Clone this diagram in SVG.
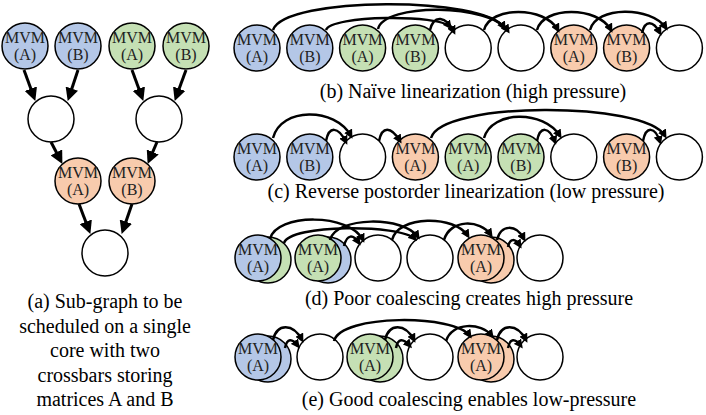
<svg xmlns="http://www.w3.org/2000/svg" width="706" height="415" viewBox="0 0 706 415">
<style>
.n{stroke:#000;stroke-width:1.5}
.b{fill:#b4c7e7}.g{fill:#c5e0b4}.o{fill:#f8cbad}.w{fill:#fff}
.t{font-family:"Liberation Serif","Times New Roman",serif;font-size:16px;text-anchor:middle;fill:#222}
.cap{font-family:"Liberation Serif","Times New Roman",serif;font-size:20px;text-anchor:middle;fill:#000}
.big{fill:none;stroke:#000;stroke-width:3;marker-end:url(#hb)}
.arc{fill:none;stroke:#000;stroke-width:2.5;marker-end:url(#hs)}
</style>
<defs>
<marker id="hb" markerUnits="userSpaceOnUse" markerWidth="13" markerHeight="13" refX="8" refY="6.5" orient="auto" viewBox="0 0 13 13"><path d="M0,0 L13,6.5 L0,13 z" fill="#000"/></marker>
<marker id="hs" markerUnits="userSpaceOnUse" markerWidth="9" markerHeight="9" refX="6" refY="4.5" orient="auto" viewBox="0 0 9 9"><path d="M0,0 L9,4.5 L0,9 z" fill="#000"/></marker>
</defs>

<!-- Panel (a) -->
<g id="a-bA"><circle class="n b" cx="25" cy="46" r="23"/><text class="t" x="25" y="43">MVM</text><text class="t" x="25" y="60">(A)</text></g>
<g id="a-bB"><circle class="n b" cx="78" cy="46" r="23"/><text class="t" x="78" y="43">MVM</text><text class="t" x="78" y="60">(B)</text></g>
<g id="a-gA"><circle class="n g" cx="132" cy="46" r="23"/><text class="t" x="132" y="43">MVM</text><text class="t" x="132" y="60">(A)</text></g>
<g id="a-gB"><circle class="n g" cx="186" cy="46" r="23"/><text class="t" x="186" y="43">MVM</text><text class="t" x="186" y="60">(B)</text></g>
<g id="a-wL"><circle class="n w" cx="51" cy="119" r="23"/></g>
<g id="a-wR"><circle class="n w" cx="159" cy="119" r="23"/></g>
<g id="a-oA"><circle class="n o" cx="78" cy="181" r="23"/><text class="t" x="78" y="178">MVM</text><text class="t" x="78" y="195">(A)</text></g>
<g id="a-oB"><circle class="n o" cx="132" cy="181" r="23"/><text class="t" x="132" y="178">MVM</text><text class="t" x="132" y="195">(B)</text></g>
<g id="a-wB"><circle class="n w" cx="105" cy="253" r="23"/></g>
<g id="a-caption">
<text class="cap" x="105" y="308">(a) Sub-graph to be</text>
<text class="cap" x="105" y="332.5">scheduled on a single</text>
<text class="cap" x="105" y="357">core with two</text>
<text class="cap" x="105" y="381.5">crossbars storing</text>
<text class="cap" x="105" y="406">matrices A and B</text>
</g>

<!-- Panel (b) -->
<g id="b-1"><circle class="n b" cx="257" cy="48" r="23"/><text class="t" x="257" y="45">MVM</text><text class="t" x="257" y="62">(A)</text></g>
<g id="b-2"><circle class="n b" cx="309.8" cy="48" r="23"/><text class="t" x="309.8" y="45">MVM</text><text class="t" x="309.8" y="62">(B)</text></g>
<g id="b-3"><circle class="n g" cx="362.6" cy="48" r="23"/><text class="t" x="362.6" y="45">MVM</text><text class="t" x="362.6" y="62">(A)</text></g>
<g id="b-4"><circle class="n g" cx="415.4" cy="48" r="23"/><text class="t" x="415.4" y="45">MVM</text><text class="t" x="415.4" y="62">(B)</text></g>
<g id="b-5"><circle class="n w" cx="468.2" cy="48" r="23"/></g>
<g id="b-6"><circle class="n w" cx="521" cy="48" r="23"/></g>
<g id="b-7"><circle class="n o" cx="573.8" cy="48" r="23"/><text class="t" x="573.8" y="45">MVM</text><text class="t" x="573.8" y="62">(A)</text></g>
<g id="b-8"><circle class="n o" cx="626.6" cy="48" r="23"/><text class="t" x="626.6" y="45">MVM</text><text class="t" x="626.6" y="62">(B)</text></g>
<g id="b-9"><circle class="n w" cx="679.4" cy="48" r="23"/></g>
<text id="b-caption" class="cap" x="473" y="98">(b) Naïve linearization (high pressure)</text>

<!-- Panel (c) -->
<g id="c-1"><circle class="n b" cx="257" cy="157" r="23"/><text class="t" x="257" y="154">MVM</text><text class="t" x="257" y="171">(A)</text></g>
<g id="c-2"><circle class="n b" cx="309.8" cy="157" r="23"/><text class="t" x="309.8" y="154">MVM</text><text class="t" x="309.8" y="171">(B)</text></g>
<g id="c-3"><circle class="n w" cx="362.6" cy="157" r="23"/></g>
<g id="c-4"><circle class="n o" cx="415.4" cy="157" r="23"/><text class="t" x="415.4" y="154">MVM</text><text class="t" x="415.4" y="171">(A)</text></g>
<g id="c-5"><circle class="n g" cx="468.2" cy="157" r="23"/><text class="t" x="468.2" y="154">MVM</text><text class="t" x="468.2" y="171">(A)</text></g>
<g id="c-6"><circle class="n g" cx="521" cy="157" r="23"/><text class="t" x="521" y="154">MVM</text><text class="t" x="521" y="171">(B)</text></g>
<g id="c-7"><circle class="n w" cx="573.8" cy="157" r="23"/></g>
<g id="c-8"><circle class="n o" cx="626.6" cy="157" r="23"/><text class="t" x="626.6" y="154">MVM</text><text class="t" x="626.6" y="171">(B)</text></g>
<g id="c-9"><circle class="n w" cx="679.4" cy="157" r="23"/></g>
<text id="c-caption" class="cap" x="466" y="198">(c) Reverse postorder linearization (low pressure)</text>

<!-- Panel (d) -->
<g id="d-1"><circle class="n g" cx="268" cy="260" r="23"/><circle class="n b" cx="258" cy="258" r="23"/><text class="t" x="258" y="255">MVM</text><text class="t" x="258" y="272">(A)</text></g>
<g id="d-2"><circle class="n b" cx="328" cy="260" r="23"/><circle class="n g" cx="318" cy="258" r="23"/><text class="t" x="318" y="255">MVM</text><text class="t" x="318" y="272">(A)</text></g>
<g id="d-3"><circle class="n w" cx="378" cy="258" r="23"/></g>
<g id="d-4"><circle class="n w" cx="430" cy="258" r="23"/></g>
<g id="d-5"><circle class="n o" cx="491" cy="260" r="23"/><circle class="n o" cx="481" cy="258" r="23"/><text class="t" x="481" y="255">MVM</text><text class="t" x="481" y="272">(A)</text></g>
<g id="d-6"><circle class="n w" cx="540" cy="258" r="23"/></g>
<text id="d-caption" class="cap" x="469" y="305">(d) Poor coalescing creates high pressure</text>

<!-- Panel (e) -->
<g id="e-1"><circle class="n b" cx="268" cy="359" r="23"/><circle class="n b" cx="258" cy="357" r="23"/><text class="t" x="258" y="354">MVM</text><text class="t" x="258" y="371">(A)</text></g>
<g id="e-2"><circle class="n w" cx="320" cy="357" r="23"/></g>
<g id="e-3"><circle class="n g" cx="380" cy="359" r="23"/><circle class="n g" cx="370" cy="357" r="23"/><text class="t" x="370" y="354">MVM</text><text class="t" x="370" y="371">(A)</text></g>
<g id="e-4"><circle class="n w" cx="430" cy="357" r="23"/></g>
<g id="e-5"><circle class="n o" cx="491" cy="359" r="23"/><circle class="n o" cx="481" cy="357" r="23"/><text class="t" x="481" y="354">MVM</text><text class="t" x="481" y="371">(A)</text></g>
<g id="e-6"><circle class="n w" cx="540" cy="357" r="23"/></g>
<text id="e-caption" class="cap" x="469" y="406">(e) Good coalescing enables low-pressure</text>

<!-- Connectors -->
<g id="connectors">
<path class="big" d="M24,70 L33.6,96.2"/>
<path class="big" d="M78,70 L69.3,96.2"/>
<path class="big" d="M132,70 L141.6,96.2"/>
<path class="big" d="M186,70 L176.4,96.2"/>
<path class="big" d="M51,142 L60.1,159.5"/>
<path class="big" d="M157,142 L149.6,159.3"/>
<path class="big" d="M79,204 L88.6,229.3"/>
<path class="big" d="M132,204 L123.3,229.2"/>

<path class="arc" d="M273,30 C285,-4 486,-4 504,28"/>
<path class="arc" d="M326,30 C331,15 440,14 450,27"/>
<path class="arc" d="M378,29 C384,3 490,3 508,31"/>
<path class="arc" d="M430,30 C434,14 446,16 454,32"/>
<path class="arc" d="M484,30 C490,6 545,6 558,30"/>
<path class="arc" d="M537,30 C543,6 598,6 611,30"/>
<path class="arc" d="M590,30 C596,6 651,6 666,28"/>
<path class="arc" d="M642,33 C645,20 653,20 660,33"/>

<path class="arc" d="M273,138 C281,107 335,107 351,136"/>
<path class="arc" d="M326,141 C329,126 338,126 346,142"/>
<path class="arc" d="M379,141 C382,126 391,126 400,141"/>
<path class="arc" d="M431,138 C441,101 645,101 665,136"/>
<path class="arc" d="M484,138 C492,110 544,110 560,136"/>
<path class="arc" d="M537,141 C540,126 549,126 555,142"/>
<path class="arc" d="M643,141 C646,126 655,126 660,142"/>

<path class="arc" d="M270,239 C276,213 350,213 363,240"/>
<path class="arc" d="M284,243 C290,224 400,224 415,239"/>
<path class="arc" d="M330,240 C336,216 404,216 418,237"/>
<path class="arc" d="M344,246 C347,234 353,234 359,243"/>
<path class="arc" d="M392,240 C398,215 455,215 468,236"/>
<path class="arc" d="M444,240 C450,219 480,219 491,235"/>
<path class="arc" d="M497,240 C501,224 516,224 524,239"/>
<path class="arc" d="M508,247 C510,238 515,238 520,246"/>

<path class="arc" d="M273,340 C277,323 293,323 302,340"/>
<path class="arc" d="M285,348 C287,338 292,338 298,346"/>
<path class="arc" d="M334,341 C341,314 455,314 470,336"/>
<path class="arc" d="M385,340 C389,323 405,323 414,340"/>
<path class="arc" d="M396,348 C398,338 403,338 410,346"/>
<path class="arc" d="M446,341 C452,322 481,322 492,336"/>
<path class="arc" d="M497,340 C501,323 517,323 526,340"/>
<path class="arc" d="M508,348 C510,338 515,338 521,346"/>
</g>
</svg>
